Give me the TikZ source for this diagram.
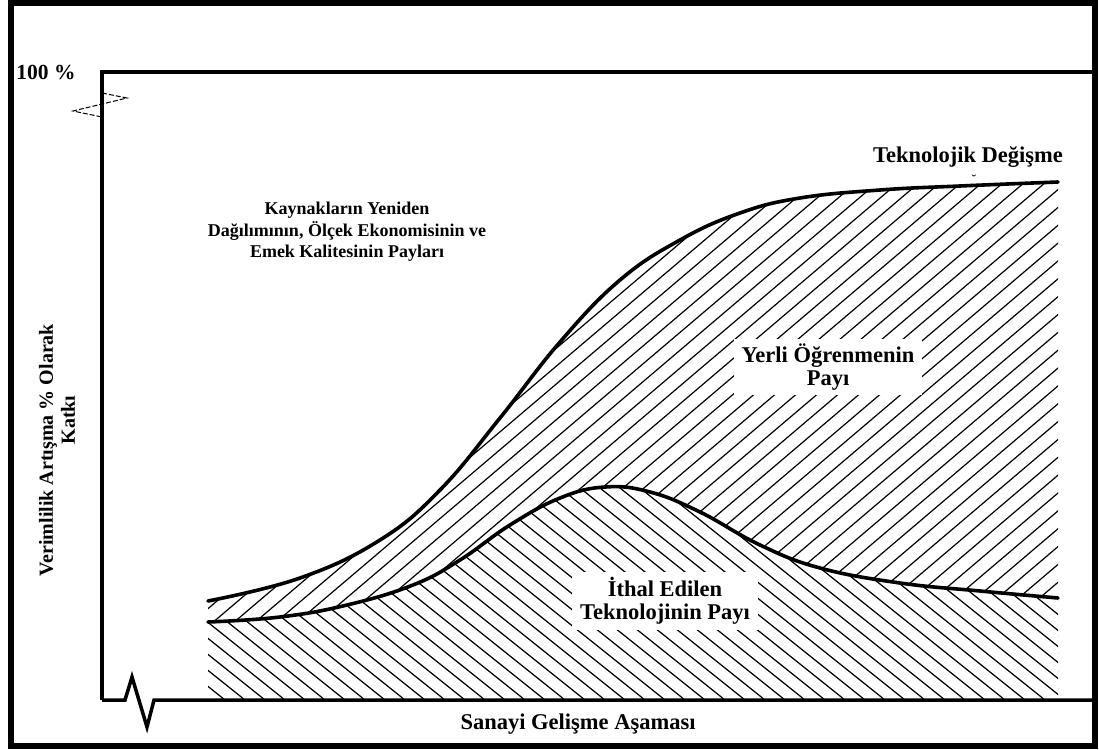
\documentclass[tikz,border=0pt]{standalone}
\usepackage{fontspec}
\setmainfont{Liberation Serif}
\begin{document}
\begin{tikzpicture}[x=1pt,y=-1pt,
  frame/.style={line width=6pt},
  axis/.style={line width=3.5pt},
  curve/.style={line width=3.6pt, line cap=round, line join=round},
  hatch/.style={line width=1.2pt},
  brk/.style={line width=1pt, dash pattern=on 5pt off 2pt},
  lbl/.style={font=\fontsize{22.5}{23}\selectfont\bfseries, align=center, inner sep=0pt},
  side/.style={font=\fontsize{20}{21}\selectfont\bfseries, align=center, inner sep=0pt},
  small/.style={font=\fontsize{18}{21.5}\selectfont\bfseries, align=center, inner sep=0pt},
  boxed/.style={lbl, fill=white, inner xsep=8pt, inner ysep=5pt}]
\useasboundingbox (0,0) rectangle (1099,749);

% outer frame
\draw[frame] (10.5,3) rectangle (1095,745.5);

% hatching between the two shares (technological change)
\begin{scope}
  \clip plot[smooth, tension=0.7] coordinates {(208,601) (300,578) (380,540) (440,490) (500,418) (560,342) (620,280) (680,240) (740,213) (800,198) (880,190) (960,186) (1058,182)}
        -- (1058,700) -- (208,700) -- cycle;
  \foreach \a in {-700,-679,...,1100} \draw[hatch] (\a,720) -- ++(800,-680);
\end{scope}

% hatching below the imported-technology curve
\fill[white] plot[smooth, tension=0.7] coordinates {(208,622) (280,617) (347,605) (413,585) (460,560) (510,525) (560,498) (605,487) (650,492) (700,512) (760,545) (820,568) (900,583) (980,591) (1058,598)}
        -- (1058,700) -- (208,700) -- cycle;
\begin{scope}
  \clip plot[smooth, tension=0.7] coordinates {(208,622) (280,617) (347,605) (413,585) (460,560) (510,525) (560,498) (605,487) (650,492) (700,512) (760,545) (820,568) (900,583) (980,591) (1058,598)}
        -- (1058,700) -- (208,700) -- cycle;
  \foreach \a in {-300,-280,...,1100} \draw[hatch] (\a,440) -- ++(400,320);
\end{scope}

% curves
\draw[curve] plot[smooth, tension=0.7] coordinates {(208,601) (300,578) (380,540) (440,490) (500,418) (560,342) (620,280) (680,240) (740,213) (800,198) (880,190) (960,186) (1058,182)};
\draw[curve] plot[smooth, tension=0.7] coordinates {(208,622) (280,617) (347,605) (413,585) (460,560) (510,525) (560,498) (605,487) (650,492) (700,512) (760,545) (820,568) (900,583) (980,591) (1058,598)};

% axes with break marks
\coordinate (top) at (102,72);
\coordinate (orig) at (102,700);
\draw[axis] (1093,72) -- (top) -- (orig);
\draw[axis, line join=miter] (orig) -- (125,700) -- (132,677) -- (147,727) -- (154,700) -- (1093,700);
\draw[brk] (102,93) -- (127,98) -- (73,111) -- (102,117);

% labels
\node[side, font=\fontsize{21.5}{21}\selectfont\bfseries] (hundred) at (46,72) {100 \%};
\node[small] (kaynak) at (347,232) {Kaynakların Yeniden\\Dağılımının, Ölçek Ekonomisinin ve\\Emek Kalitesinin Payları};
\node[lbl] (tekno) at (968,157) {Teknolojik Değişme};
\node[inner sep=0pt, font=\fontsize{14}{14}\selectfont] (breve) at (974,180) {˘};
\node[boxed] (yerli) at (828,367) {Yerli Öğrenmenin\\Payı};
\node[boxed] (ithal) at (665,601) {İthal Edilen\\Teknolojinin Payı};
\node[lbl] (sanayi) at (578,724) {Sanayi Gelişme Aşaması};
\node[side, rotate=90] (ylab) at (48,450) {Verimlilik Artışma \% Olarak};
\node[side, rotate=90] (ylab2) at (68,420) {Katkı};
\end{tikzpicture}
\end{document}
